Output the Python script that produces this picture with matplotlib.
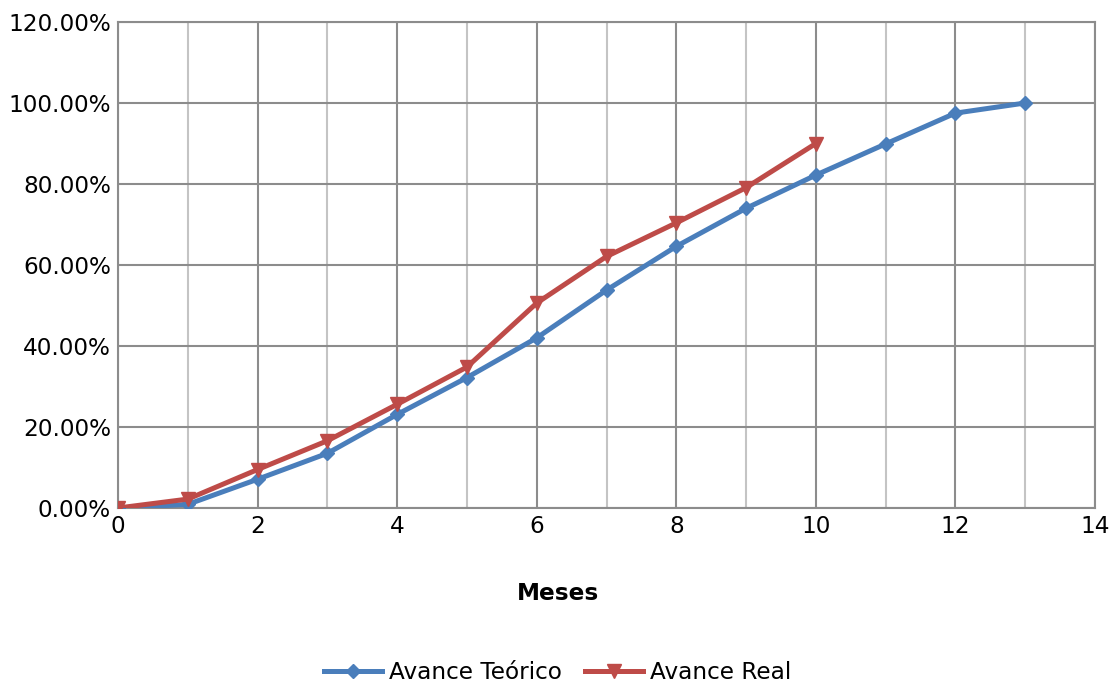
import matplotlib.pyplot as plt
from matplotlib.ticker import FuncFormatter, MultipleLocator

meses_teorico = [0, 1, 2, 3, 4, 5, 6, 7, 8, 9, 10, 11, 12, 13]
avance_teorico = [0.0, 0.9, 7.1, 13.5, 23.1, 32.2, 42.0, 53.8, 64.6, 74.0, 82.2, 89.9, 97.5, 100.0]
meses_real = [0, 1, 2, 3, 4, 5, 6, 7, 8, 9, 10]
avance_real = [0.0, 2.2, 9.5, 16.6, 25.6, 34.8, 50.6, 62.1, 70.4, 79.1, 90.0]

azul = "#4A7EBB"
rojo = "#BE4B48"
grid_oscuro = "#8C8C8C"
grid_claro = "#C4C4C4"

fig = plt.figure(figsize=(11.2, 6.88), dpi=100)
ax = fig.add_axes([118 / 1120, 1 - 508 / 688, (1095 - 118) / 1120, (508 - 22) / 688])

ax.plot(meses_teorico, avance_teorico, color=azul, linewidth=3.6, marker="D",
        markersize=7.5, label="Avance Teórico", zorder=3)
ax.plot(meses_real, avance_real, color=rojo, linewidth=3.6, marker="v",
        markersize=10, label="Avance Real", zorder=4)

ax.set_xlim(0, 14)
ax.set_ylim(0, 120)
ax.xaxis.set_major_locator(MultipleLocator(2))
ax.xaxis.set_minor_locator(MultipleLocator(1))
ax.yaxis.set_major_locator(MultipleLocator(20))
ax.yaxis.set_major_formatter(FuncFormatter(lambda v, _: f"{v:.2f}%"))
ax.grid(which="minor", axis="x", color=grid_claro, linewidth=1.5, zorder=0)
ax.grid(which="major", axis="both", color=grid_oscuro, linewidth=1.5, zorder=1)
ax.set_axisbelow(True)
ax.tick_params(which="both", length=0, labelsize=16.7, pad=5)
for s in ax.spines.values():
    s.set_color(grid_oscuro)
    s.set_linewidth(1.5)

# el título del eje va centrado en la figura, no en el área de trazado
fig.text(558 / 1120, 1 - 593 / 688, "Meses", fontsize=16.7, fontweight="bold",
         ha="center", va="center")
fig.legend(loc="lower center", bbox_to_anchor=(0.498, -0.025), ncol=2, frameon=False,
           fontsize=16.7, handlelength=2.5, columnspacing=1.0, handletextpad=0.3)

fig.savefig("out.png", dpi=100)
